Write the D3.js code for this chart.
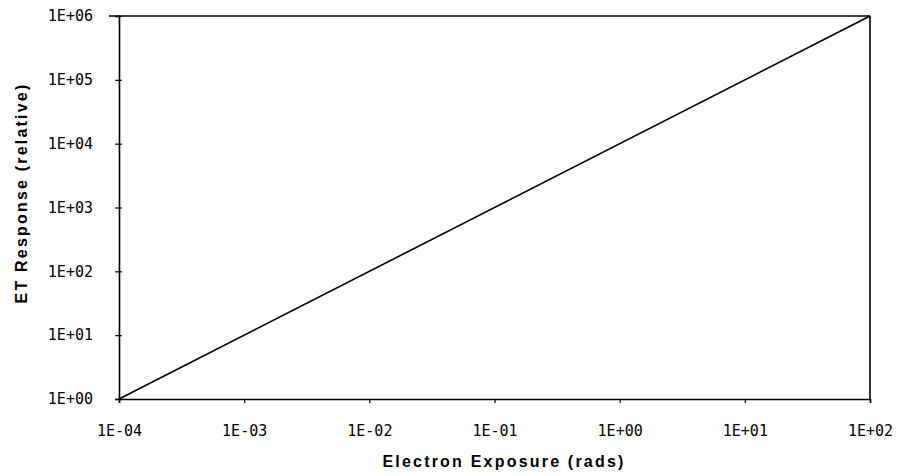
<!DOCTYPE html>
<html>
<head>
<meta charset="utf-8">
<script src="https://cdn.jsdelivr.net/npm/d3@7"></script>
<style>
  body { margin: 0; background: #fff; }
  .tick text { font-family: "DejaVu Sans Mono", monospace; font-size: 15px; fill: #000; }
  .title { font-family: "Liberation Sans", Arial, sans-serif; font-size: 16px; font-weight: bold; fill: #000; letter-spacing: 2.2px; }
</style>
</head>
<body>
<svg id="chart" width="900" height="476"></svg>
<script>
// 数据
let exposure = [1e-4, 1e2];      // 电子曝光量 rads
let response = [1e0, 1e6];       // ET 响应
let xTickLabels = ['1E-04', '1E-03', '1E-02', '1E-01', '1E+00', '1E+01', '1E+02'];
let yTickLabels = ['1E+00', '1E+01', '1E+02', '1E+03', '1E+04', '1E+05', '1E+06'];

let margin = {left: 119, right: 30, top: 16, bottom: 77};
let width = 900 - margin.left - margin.right;
let height = 476 - margin.top - margin.bottom;

let svg = d3.select('#chart');
let g = svg.append('g').attr('transform', `translate(${margin.left},${margin.top})`);

let x = d3.scaleLog().domain([1e-4, 1e2]).range([0, width]);
let y = d3.scaleLog().domain([1e0, 1e6]).range([height, 0]);

let xTicks = xTickLabels.map(d => +d);
let yTicks = yTickLabels.map(d => +d);

// 坐标轴
let xAxis = g.append('g').attr('transform', `translate(0,${height})`)
    .call(d3.axisBottom(x).tickValues(xTicks).tickFormat((d, i) => xTickLabels[i]).tickSize(4).tickPadding(22));
let yAxis = g.append('g')
    .call(d3.axisLeft(y).tickValues(yTicks).tickFormat((d, i) => yTickLabels[i]).tickSize(4).tickPadding(22));
[xAxis, yAxis].forEach(a => {
    a.select('.domain').attr('stroke', '#000').attr('stroke-width', 1.6);
    a.selectAll('.tick line').attr('stroke', '#000').attr('stroke-width', 1.2);
});
yAxis.selectAll('.tick line').attr('x2', 3).attr('x1', -4);

// 上边和右边框
g.append('line').attr('x1', -10).attr('x2', width).attr('y1', 0).attr('y2', 0)
    .attr('stroke', '#000').attr('stroke-width', 1.6);
g.append('line').attr('x1', width).attr('x2', width).attr('y1', 0).attr('y2', height)
    .attr('stroke', '#000').attr('stroke-width', 1.6);

// 响应曲线
let line = d3.line().x(d => x(d[0])).y(d => y(d[1]));
g.append('path')
    .datum(exposure.map((d, i) => [d, response[i]]))
    .attr('fill', 'none').attr('stroke', '#000').attr('stroke-width', 1.6)
    .attr('d', line);

// 标题
svg.append('text').attr('class', 'title')
    .attr('x', 504).attr('y', 467).attr('text-anchor', 'middle')
    .text('Electron Exposure (rads)');
svg.append('text').attr('class', 'title')
    .attr('transform', `translate(27,193) rotate(-90)`).attr('text-anchor', 'middle')
    .text('ET Response (relative)');
</script>
</body>
</html>
